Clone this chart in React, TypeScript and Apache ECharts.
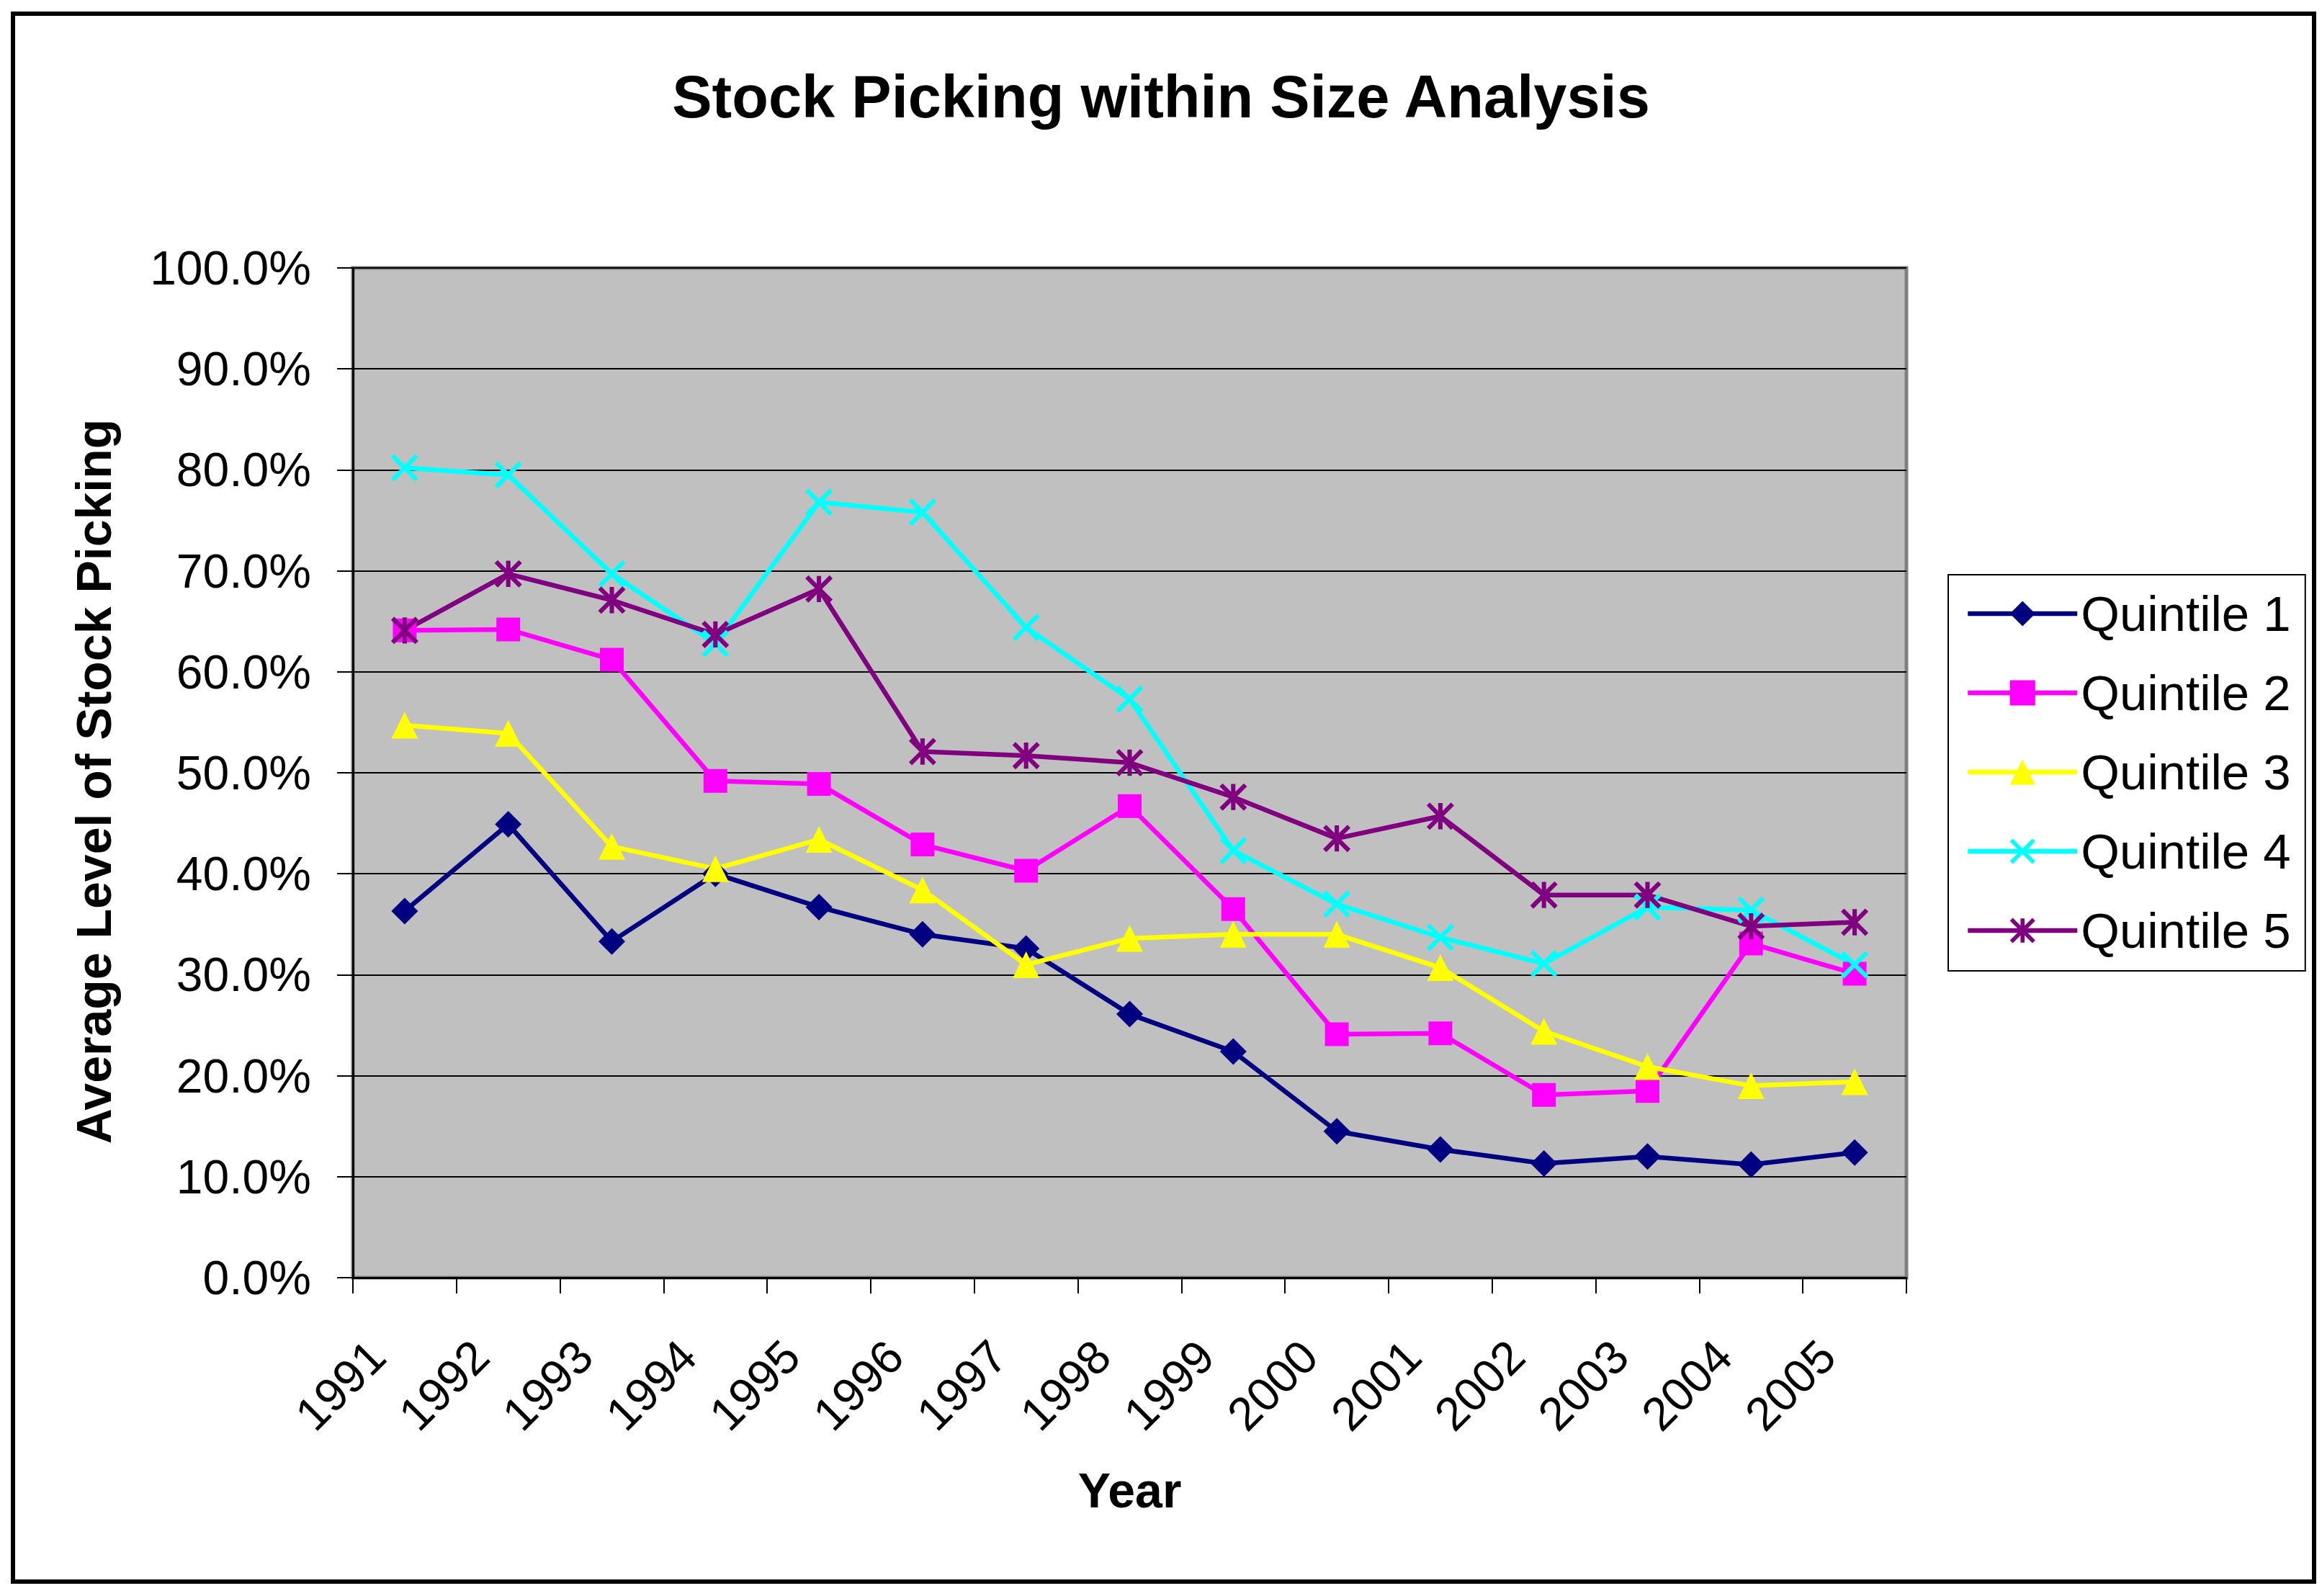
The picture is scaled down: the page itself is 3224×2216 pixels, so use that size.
import React, { useEffect, useRef } from "react";
import * as echarts from "echarts";

const years = ["1991", "1992", "1993", "1994", "1995", "1996", "1997", "1998", "1999", "2000", "2001", "2002", "2003", "2004", "2005"];
const quintile1 = [36.3, 44.9, 33.3, 40.0, 36.7, 34.0, 32.6, 26.1, 22.4, 14.5, 12.7, 11.3, 12.0, 11.2, 12.4];
const quintile2 = [64.1, 64.2, 61.2, 49.2, 48.9, 42.9, 40.3, 46.7, 36.5, 24.1, 24.2, 18.1, 18.5, 33.1, 30.1];
const quintile3 = [54.7, 53.9, 42.7, 40.5, 43.4, 38.4, 31.0, 33.6, 34.0, 34.0, 30.7, 24.4, 20.9, 19.0, 19.4];
const quintile4 = [80.2, 79.5, 69.7, 62.8, 76.8, 75.8, 64.4, 57.3, 42.3, 37.0, 33.7, 31.1, 36.7, 36.4, 31.0];
const quintile5 = [64.1, 69.7, 67.1, 63.7, 68.2, 52.1, 51.7, 51.0, 47.6, 43.5, 45.7, 37.9, 37.9, 34.8, 35.2];
const seriesNames = ["Quintile 1", "Quintile 2", "Quintile 3", "Quintile 4", "Quintile 5"];

const FONT = "'Liberation Sans', Arial, sans-serif";
// filled X and asterisk shapes (Excel-style "x" and "star" markers)
const X_PATH =
  "path://M0.64 -0.64L10.64 9.36L9.36 10.64L-0.64 0.64ZM10.64 0.64L0.64 10.64L-0.64 9.36L9.36 -0.64Z";
const STAR_PATH =
  "path://M0.64 -0.64L10.64 9.36L9.36 10.64L-0.64 0.64ZM10.64 0.64L0.64 10.64L-0.64 9.36L9.36 -0.64ZM4.1 -0.4L5.9 -0.4L5.9 10.4L4.1 10.4Z";

export default function App() {
  const ref = useRef<HTMLDivElement>(null);

  useEffect(() => {
    if (!ref.current) return;
    const chart = echarts.init(ref.current, null, { renderer: "svg" });

    const defs = [
      { name: seriesNames[0], data: quintile1, color: "#000080", symbol: "diamond", size: 37 },
      { name: seriesNames[1], data: quintile2, color: "#FF00FF", symbol: "rect", size: 33 },
      { name: seriesNames[2], data: quintile3, color: "#FFFF00", symbol: "triangle", size: 37 },
      { name: seriesNames[3], data: quintile4, color: "#00FFFF", symbol: X_PATH, size: 38 },
      { name: seriesNames[4], data: quintile5, color: "#800080", symbol: STAR_PATH, size: 38 },
    ];

    chart.setOption({
      animation: false,
      backgroundColor: "#FFFFFF",
      title: {
        text: "Stock Picking within Size Analysis",
        left: "center",
        top: 88,
        textStyle: { fontFamily: FONT, fontSize: 83, fontWeight: "bold", color: "#000" },
      },
      legend: {
        orient: "vertical",
        left: 2705,
        top: 798,
        itemWidth: 152,
        itemHeight: 44,
        itemGap: 40,
        padding: [19, 20, 21, 24],
        borderColor: "#000",
        borderWidth: 2,
        textStyle: { fontFamily: FONT, fontSize: 69, lineHeight: 70, color: "#000" },
        data: defs.map((d) => ({
          name: d.name,
          itemStyle: { color: d.color, borderWidth: 0 },
          lineStyle: { color: d.color, width: 6.5 },
        })),
      },
      grid: {
        left: 490,
        top: 372,
        width: 2157,
        height: 1402,
        show: true,
        backgroundColor: "#C0C0C0",
        borderColor: "#808080",
        borderWidth: 5,
      },
      xAxis: {
        type: "category",
        data: years,
        boundaryGap: true,
        name: "Year",
        nameLocation: "middle",
        nameGap: 261,
        nameTextStyle: { fontFamily: FONT, fontSize: 68, fontWeight: "bold", color: "#000" },
        axisLine: { show: true, lineStyle: { color: "#000", width: 3 } },
        axisTick: { show: true, interval: 0, length: 22, lineStyle: { color: "#000", width: 2 } },
        axisLabel: {
          interval: 0,
          rotate: 45,
          margin: 60,
          padding: [0, 54, 0, 0],
          fontFamily: FONT,
          fontSize: 65,
          color: "#000",
        },
        splitLine: { show: false },
      },
      yAxis: {
        type: "value",
        min: 0,
        max: 100,
        interval: 10,
        name: "Average Level of Stock Picking",
        nameLocation: "middle",
        nameGap: 326,
        nameTextStyle: {
          fontFamily: FONT,
          fontSize: 68,
          fontWeight: "bold",
          color: "#000",
          padding: [0, 24, 0, 0],
        },
        axisLine: { show: true, lineStyle: { color: "#000", width: 3 } },
        axisTick: { show: true, length: 22, lineStyle: { color: "#000", width: 2 } },
        axisLabel: {
          margin: 58,
          fontFamily: FONT,
          fontSize: 66,
          color: "#000",
          formatter: (v: number) => v.toFixed(1) + "%",
        },
        splitLine: { show: true, lineStyle: { color: "#000", width: 2 } },
      },
      series: defs.map((d) => ({
        name: d.name,
        type: "line",
        data: d.data,
        symbol: d.symbol,
        symbolSize: d.size,
        showSymbol: true,
        showAllSymbol: true,
        lineStyle: { color: d.color, width: 6.5 },
        itemStyle: { color: d.color, borderWidth: 0 },
        emphasis: { disabled: true },
      })),
      graphic: [
        {
          type: "rect",
          silent: true,
          z: 100,
          shape: { x: 18, y: 19, width: 3195, height: 2177 },
          style: { fill: "none", stroke: "#000", lineWidth: 6 },
        },
      ],
    });

    return () => {
      chart.dispose();
    };
  }, []);

  return (
    <div
      ref={ref}
      style={{ position: "absolute", left: 0, top: 0, width: 3224, height: 2216 }}
    />
  );
}
